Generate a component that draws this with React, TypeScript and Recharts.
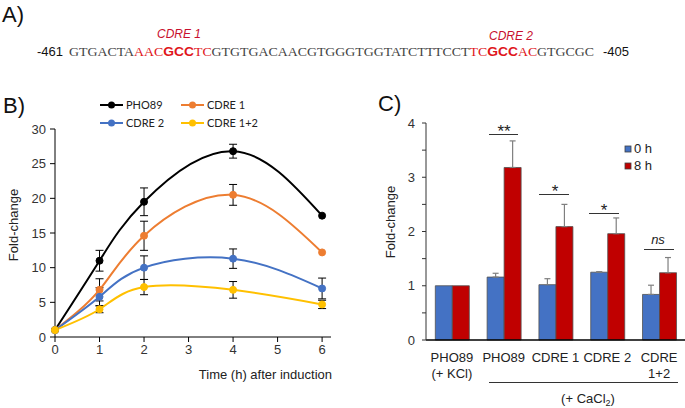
import React from 'react'
import {
	Bar,
	BarChart,
	ErrorBar,
	Legend,
	Line,
	LineChart,
	XAxis,
	YAxis,
} from 'recharts'

const SANS = '"Liberation Sans", Arial, sans-serif'
const SERIF = '"Liberation Serif", "Times New Roman", serif'

// panel A - promoter sequence
const seqParts = [
	{ t: 'GTGACTA', red: false, bold: false },
	{ t: 'AAC', red: true, bold: false },
	{ t: 'GCC', red: true, bold: true },
	{ t: 'TC', red: true, bold: false },
	{ t: 'GTGTGACAACGTGGGTGGTATCTTTCCT', red: false, bold: false },
	{ t: 'TC', red: true, bold: false },
	{ t: 'GCC', red: true, bold: true },
	{ t: 'AC', red: true, bold: false },
	{ t: 'GTGCGC', red: false, bold: false },
]

// panel B - time course
const hours = [0, 1, 2, 4, 6]
const pho89 = [1, 11, 19.5, 26.8, 17.5]
const pho89Err = [0, 1.5, 2, 1, 0]
const cdre1 = [1, 6.8, 14.6, 20.5, 12.2]
const cdre1Err = [0, 1.6, 2.1, 1.5, 0]
const cdre2 = [1, 5.8, 10, 11.3, 7]
const cdre2Err = [0, 1.3, 1.7, 1.4, 1.5]
const cdre12 = [1, 4, 7.2, 6.8, 4.7]
const cdre12Err = [0, 0.5, 1.1, 1.2, 0.6]
const hourTicks = [0, 1, 2, 3, 4, 5, 6]
const foldTicks = [0, 5, 10, 15, 20, 25, 30]

const lineSeries = [
	{ key: 'pho89', name: 'PHO89', color: '#000000', values: pho89, errors: pho89Err },
	{ key: 'cdre1', name: 'CDRE 1', color: '#ED7D31', values: cdre1, errors: cdre1Err },
	{ key: 'cdre2', name: 'CDRE 2', color: '#4472C4', values: cdre2, errors: cdre2Err },
	{ key: 'cdre12', name: 'CDRE 1+2', color: '#FFC000', values: cdre12, errors: cdre12Err },
]

const lineRows = hours.map((h, i) => {
	const row: Record<string, number> = { h }
	lineSeries.forEach((s) => {
		row[s.key] = s.values[i]
		row[s.key + 'Err'] = s.errors[i]
	})
	return row
})

// panel C - CaCl2 induction
const groups = ['PHO89\n(+ KCl)', 'PHO89', 'CDRE 1', 'CDRE 2', 'CDRE\n1+2']
const fold0h = [1, 1.16, 1.02, 1.25, 0.84]
const fold0hErr = [0, 0.07, 0.11, 0.01, 0.17]
const fold8h = [1, 3.18, 2.09, 1.96, 1.24]
const fold8hErr = [0, 0.49, 0.41, 0.29, 0.28]
const barTicks = [0, 0.5, 1, 1.5, 2, 2.5, 3, 3.5, 4]

// error bars only go up
const upOnly = (e: number) => (e ? [0, e] : 0)

const barRows = groups.map((g, i) => ({
	group: g,
	h0: fold0h[i],
	h0Err: upOnly(fold0hErr[i]),
	h8: fold8h[i],
	h8Err: upOnly(fold8hErr[i]),
}))

const BLUE = '#4472C4'
const RED = '#C00000'

function GroupTick(props: any) {
	const { x, y, payload } = props
	const lines = String(payload.value).split('\n')
	return (
		<text x={x} y={y} textAnchor="middle" fontSize={13} fill="#222" fontFamily={SANS}>
			{lines.map((l, i) => (
				<tspan key={i} x={x} dy={i === 0 ? 14 : 16}>
					{l}
				</tspan>
			))}
		</text>
	)
}

function LineLegend() {
	return (
		<svg width={170} height={36} style={{ display: 'block' }}>
			{lineSeries.map((s, i) => {
				const cx = (i % 2) * 81
				const cy = 9 + Math.floor(i / 2) * 18
				return (
					<g key={s.key}>
						<line x1={cx + 2} x2={cx + 25} y1={cy} y2={cy} stroke={s.color} strokeWidth={2} />
						<circle cx={cx + 13.5} cy={cy} r={3.5} fill={s.color} />
						<text x={cx + 28} y={cy + 4} fontSize={11} fill="#222" fontFamily='Lato, "Open Sans", sans-serif'>
							{s.name}
						</text>
					</g>
				)
			})}
		</svg>
	)
}

function BarLegend() {
	const items = [
		{ name: '0 h', color: BLUE },
		{ name: '8 h', color: RED },
	]
	return (
		<svg width={50} height={34} style={{ display: 'block' }}>
			{items.map((it, i) => (
				<g key={it.name}>
					<rect x={3} y={5 + i * 17} width={6} height={6} fill={it.color} stroke="#404040" strokeWidth={0.8} />
					<text x={12} y={12 + i * 17} fontSize={13} fill="#222" fontFamily={SANS}>
						{it.name}
					</text>
				</g>
			))}
		</svg>
	)
}

function TimeCourse() {
	return (
		<LineChart
			width={340}
			height={300}
			data={lineRows}
			margin={{ top: 44, right: 9, bottom: 0, left: 0 }}
		>
			<XAxis
				type="number"
				dataKey="h"
				domain={[0, 6.2]}
				ticks={hourTicks}
				height={48}
				tickSize={5}
				tickMargin={3}
				stroke="#000"
				tick={{ fontSize: 13, fill: '#333', fontFamily: SANS }}
			/>
			<YAxis
				domain={[0, 30]}
				ticks={foldTicks}
				width={55}
				tickSize={5}
				tickMargin={4}
				stroke="#000"
				tick={{ fontSize: 13, fill: '#333', fontFamily: SANS }}
			/>
			<Legend
				verticalAlign="middle"
				align="center"
				layout="horizontal"
				content={() => <LineLegend />}
				wrapperStyle={{ position: 'absolute', left: 98, top: 11, width: 170, height: 36 }}
			/>
			{lineSeries.map((s) => (
				<Line
					key={s.key}
					type="natural"
					dataKey={s.key}
					name={s.name}
					stroke={s.color}
					strokeWidth={2}
					dot={{ r: 3.5, fill: s.color, stroke: s.color, strokeWidth: 1 }}
					isAnimationActive={false}
				>
					<ErrorBar dataKey={s.key + 'Err'} direction="y" width={4} stroke="#000" strokeWidth={1} />
				</Line>
			))}
		</LineChart>
	)
}

function Induction() {
	return (
		<BarChart
			width={345}
			height={323}
			data={barRows}
			margin={{ top: 38, right: 0, bottom: 0, left: 0 }}
			barCategoryGap="18%"
			barGap={0}
		>
			<XAxis
				dataKey="group"
				height={68}
				tickLine={false}
				axisLine={{ stroke: '#000', strokeWidth: 1.6 }}
				tick={<GroupTick />}
				interval={0}
			/>
			<YAxis
				domain={[0, 4]}
				ticks={barTicks}
				width={86}
				tickSize={4}
				tickMargin={7}
				stroke="#333"
				tickFormatter={(v: number) => (Number.isInteger(v) ? String(v) : '')}
				tick={{ fontSize: 13, fill: '#333', fontFamily: SANS }}
			/>
			<Legend
				verticalAlign="middle"
				align="center"
				layout="horizontal"
				content={() => <BarLegend />}
				wrapperStyle={{ position: 'absolute', left: 282, top: 56, width: 50, height: 34 }}
			/>
			<Bar dataKey="h0" name="0 h" fill={BLUE} stroke="#505050" strokeWidth={0.8} isAnimationActive={false}>
				<ErrorBar dataKey="h0Err" direction="y" width={3} stroke="#7f7f7f" strokeWidth={1.2} />
			</Bar>
			<Bar dataKey="h8" name="8 h" fill={RED} stroke="#505050" strokeWidth={0.8} isAnimationActive={false}>
				<ErrorBar dataKey="h8Err" direction="y" width={3} stroke="#7f7f7f" strokeWidth={1.2} />
			</Bar>
		</BarChart>
	)
}

export default function App() {
	return (
		<div
			style={{
				position: 'absolute',
				left: 0,
				top: 0,
				width: 685,
				height: 408,
				background: '#fff',
				overflow: 'hidden',
			}}
		>
			<div style={{ position: 'absolute', left: 0, top: 85 }}>
				<TimeCourse />
			</div>
			<div style={{ position: 'absolute', left: 340, top: 85 }}>
				<Induction />
			</div>
			<svg
				width={685}
				height={408}
				style={{ position: 'absolute', left: 0, top: 0, pointerEvents: 'none' }}
				fontFamily={SANS}
			>
				{/* panel A */}
				<text x={2} y={22} fontSize={22} fill="#111">A)</text>
				<text x={179} y={38} fontSize={12} fontStyle="italic" fill="#c8102e" textAnchor="middle">CDRE 1</text>
				<text x={511} y={40} fontSize={12} fontStyle="italic" fill="#c8102e" textAnchor="middle">CDRE 2</text>
				<text x={37} y={56} fontSize={13} fill="#111">-461</text>
				<text
					x={69}
					y={56}
					fontSize={13}
					fontFamily={SERIF}
					textLength={525}
					lengthAdjust="spacingAndGlyphs"
				>
					{seqParts.map((p, i) => (
						<tspan
							key={i}
							fill={p.red ? '#e0151b' : '#444'}
							fontWeight={p.bold ? 'bold' : 'normal'}
							fontFamily={p.bold ? SANS : SERIF}
						>
							{p.t}
						</tspan>
					))}
				</text>
				<text x={603} y={56} fontSize={13} fill="#111">-405</text>

				{/* panel B */}
				<text x={3} y={113} fontSize={22} fill="#111">B)</text>
				<text x={18} y={225} fontSize={13} fill="#222" textAnchor="middle" transform="rotate(-90 18 225)">
					Fold-change
				</text>
				<text x={332} y={379} fontSize={13} fill="#222" textAnchor="end">Time (h) after induction</text>

				{/* panel C */}
				<text x={378} y={111} fontSize={22} fill="#111">C)</text>
				<text x={395} y={222} fontSize={13} fill="#222" textAnchor="middle" transform="rotate(-90 395 222)">
					Fold-change
				</text>
				<line x1={489} x2={518} y1={134.5} y2={134.5} stroke="#333" strokeWidth={1} />
				<text x={504} y={137} fontSize={17} fill="#222" textAnchor="middle">**</text>
				<line x1={539} x2={569} y1={194.5} y2={194.5} stroke="#333" strokeWidth={1} />
				<text x={555} y={197} fontSize={17} fill="#222" textAnchor="middle">*</text>
				<line x1={589} x2={619} y1={213.5} y2={213.5} stroke="#333" strokeWidth={1} />
				<text x={604} y={216} fontSize={17} fill="#222" textAnchor="middle">*</text>
				<line x1={644} x2={674} y1={249.5} y2={249.5} stroke="#333" strokeWidth={1} />
				<text x={658} y={244} fontSize={13} fill="#222" textAnchor="middle" fontStyle="italic">ns</text>
				<line x1={489} x2={678} y1={382.5} y2={382.5} stroke="#333" strokeWidth={1} />
				<text x={588} y={403} fontSize={13} fill="#222" textAnchor="middle">
					(+ CaCl<tspan fontSize={9} dy={3}>2</tspan>
					<tspan dy={-3}>)</tspan>
				</text>
			</svg>
		</div>
	)
}
